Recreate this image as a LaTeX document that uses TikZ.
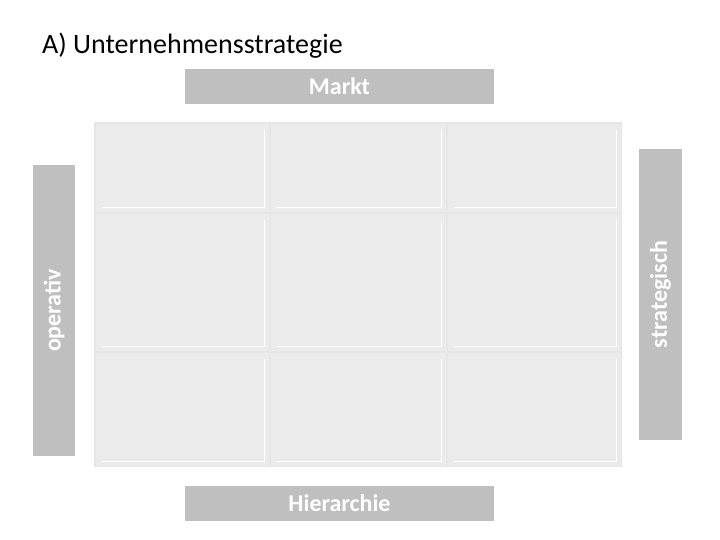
\documentclass[tikz,border=0pt]{standalone}
\usepackage{fontspec}
\setmainfont{Carlito}
\definecolor{barg}{HTML}{BFBFBF}
\definecolor{panelg}{HTML}{E6E6E6}
\definecolor{cellg}{HTML}{EBEBEB}
\begin{document}
\begin{tikzpicture}[x=1pt,y=-1pt,
  bar/.style={fill=barg,draw=none,inner sep=0pt,text=white,font=\bfseries\fontsize{24}{28}\selectfont},
  cellbox/.style={fill=cellg,draw=none}]
\useasboundingbox[fill=white] (0,0) rectangle (720,540);
\node[anchor=base west,inner sep=0pt,font=\fontsize{28}{32}\selectfont] (title) at (42,54) {A) Unternehmensstrategie};
\node[bar,minimum width=309pt,minimum height=35pt] (markt) at (339.5,86.5) {Markt};
\node[bar,minimum width=309pt,minimum height=35pt] (hier) at (339.5,503.5) {Hierarchie};
\node[bar,minimum width=291pt,minimum height=42pt,rotate=90] (oper) at (54,310.5) {operativ};
\node[bar,minimum width=291pt,minimum height=43pt,rotate=90] (strat) at (660.5,294.5) {strategisch};
\fill[panelg] (94,122) rectangle (622,467);
\foreach \xa/\xb [count=\i] in {96/269,271/446,448/621}{
  \foreach \ya/\yb [count=\j] in {124/212,214/351,353/466}{
    \fill[cellg] (\xa,\ya) rectangle (\xb,\yb);
    \draw[white,line width=1.6pt] (\xb-4.5,\ya+6) -- (\xb-4.5,\yb-4.5) -- (\xa+6,\yb-4.5);
  }
}
\end{tikzpicture}
\end{document}
